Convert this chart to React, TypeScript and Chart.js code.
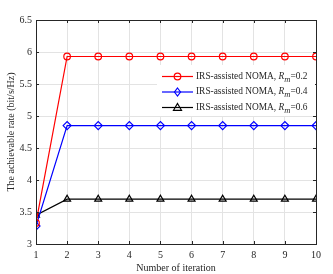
import React, { useEffect, useRef } from "react";
import { Chart, registerables } from "chart.js";

Chart.register(...registerables);

const iterations = [1, 2, 3, 4, 5, 6, 7, 8, 9, 10];
const rateRm02 = [3.33, 5.93, 5.93, 5.93, 5.93, 5.93, 5.93, 5.93, 5.93, 5.93];
const rateRm04 = [3.28, 4.85, 4.85, 4.85, 4.85, 4.85, 4.85, 4.85, 4.85, 4.85];
const rateRm06 = [3.45, 3.7, 3.7, 3.7, 3.7, 3.7, 3.7, 3.7, 3.7, 3.7];
const legendValues = ["0.2", "0.4", "0.6"];
const seriesColors = ["#ff0000", "#0000ff", "#000000"];
const pointStyles = ["circle", "rectRot", "triangle"];
const pointRadii = [3.3, 4, 4];

const FONT = "'Liberation Serif', 'DejaVu Serif', serif";
const AXIS = "#262626";

function drawMarker(ctx: CanvasRenderingContext2D, style: string, r: number, x: number, y: number, color: string) {
  ctx.save();
  ctx.strokeStyle = color;
  ctx.lineWidth = 1.2;
  ctx.beginPath();
  if (style === "circle") {
    ctx.arc(x, y, r, 0, Math.PI * 2);
  } else if (style === "rectRot") {
    ctx.moveTo(x, y - r);
    ctx.lineTo(x + r * 0.75, y);
    ctx.lineTo(x, y + r);
    ctx.lineTo(x - r * 0.75, y);
    ctx.closePath();
  } else {
    ctx.moveTo(x, y - r);
    ctx.lineTo(x + r, y + r * 0.7);
    ctx.lineTo(x - r, y + r * 0.7);
    ctx.closePath();
  }
  ctx.stroke();
  ctx.restore();
}

const boxPlugin = {
  id: "boxAndLegend",
  afterDraw(chart: any) {
    const { ctx, chartArea } = chart;
    const { left, right, top, bottom } = chartArea;
    ctx.save();
    ctx.strokeStyle = AXIS;
    ctx.lineWidth = 1;
    ctx.strokeRect(Math.round(left) + 0.5, Math.round(top) + 0.5, Math.round(right - left), Math.round(bottom - top));
    const xs = chart.scales.x;
    const ys = chart.scales.y;
    ctx.beginPath();
    xs.ticks.forEach((t: any) => {
      const px = Math.round(xs.getPixelForValue(t.value)) + 0.5;
      ctx.moveTo(px, bottom);
      ctx.lineTo(px, bottom - 3);
      ctx.moveTo(px, top);
      ctx.lineTo(px, top + 3);
    });
    ys.ticks.forEach((t: any) => {
      const py = Math.round(ys.getPixelForValue(t.value)) + 0.5;
      ctx.moveTo(left, py);
      ctx.lineTo(left + 3, py);
      ctx.moveTo(right, py);
      ctx.lineTo(right - 3, py);
    });
    ctx.stroke();

    // legend
    const lx0 = 157;
    const ly0 = 65;
    ctx.fillStyle = "#ffffff";
    ctx.fillRect(lx0, ly0, right - lx0 - 1, 51);
    const rowsY = [76.5, 92, 107.5];
    chart.data.datasets.forEach((ds: any, i: number) => {
      const y = rowsY[i];
      ctx.strokeStyle = seriesColors[i];
      ctx.lineWidth = 1.2;
      ctx.beginPath();
      ctx.moveTo(162, y);
      ctx.lineTo(193, y);
      ctx.stroke();
      drawMarker(ctx, pointStyles[i], pointRadii[i], 177.5, y, seriesColors[i]);
      ctx.fillStyle = AXIS;
      ctx.textBaseline = "middle";
      ctx.textAlign = "left";
      let x = 196;
      ctx.font = `9.4px ${FONT}`;
      const base = "IRS-assisted NOMA, ";
      ctx.fillText(base, x, y);
      x += ctx.measureText(base).width;
      ctx.font = `italic 9.4px ${FONT}`;
      ctx.fillText("R", x, y);
      x += ctx.measureText("R").width;
      ctx.font = `italic 8.5px ${FONT}`;
      ctx.fillText("m", x, y + 3);
      x += ctx.measureText("m").width;
      ctx.font = `9.4px ${FONT}`;
      ctx.fillText("=" + legendValues[i], x, y);
    });
    ctx.restore();
  },
};

export default function App() {
  const ref = useRef<HTMLCanvasElement | null>(null);
  useEffect(() => {
    if (!ref.current) return;
    const series = [rateRm02, rateRm04, rateRm06];
    const chart = new Chart(ref.current, {
      type: "line",
      data: {
        datasets: series.map((vals, i) => ({
          label: "IRS-assisted NOMA, Rm=" + legendValues[i],
          data: iterations.map((it, k) => ({ x: it, y: vals[k] })),
          borderColor: seriesColors[i],
          backgroundColor: "rgba(0,0,0,0)",
          borderWidth: 1.2,
          pointStyle: pointStyles[i] as any,
          pointRadius: pointRadii[i],
          pointBorderWidth: 1.2,
          pointBorderColor: seriesColors[i],
          pointBackgroundColor: "rgba(0,0,0,0)",
          tension: 0,
        })),
      },
      options: {
        animation: false,
        responsive: false,
        devicePixelRatio: 1,
        layout: { padding: { left: 0, right: 17, top: 20, bottom: 0 } },
        plugins: { legend: { display: false }, tooltip: { enabled: false } },
        scales: {
          x: {
            type: "linear",
            min: 1,
            max: 10,
            afterFit: (s: any) => { s.height = 30; },
            border: { display: false },
            grid: { color: "#e3e3e3", drawTicks: false },
            ticks: { stepSize: 1, padding: 5, color: AXIS, font: { family: FONT, size: 10 }, maxRotation: 0 },
            title: { display: true, text: "Number of iteration", color: AXIS, font: { family: FONT, size: 10, lineHeight: 1.2 }, padding: { top: 0, bottom: 0 } },
          },
          y: {
            min: 3,
            max: 6.5,
            afterFit: (s: any) => { s.width = 36; },
            border: { display: false },
            grid: { color: "#e3e3e3", drawTicks: false },
            ticks: { stepSize: 0.5, padding: 4, color: AXIS, font: { family: FONT, size: 10 }, callback: (v: any) => String(v) },
            title: { display: true, text: "The achievable rate (bit/s/Hz)", color: AXIS, font: { family: FONT, size: 10, lineHeight: 1.2 }, padding: { top: 5, bottom: 0 } },
          },
        },
      },
      plugins: [boxPlugin],
    });
    return () => chart.destroy();
  }, []);
  return (
    <div style={{ position: "absolute", left: 0, top: 0, width: 333, height: 274, background: "#fff" }}>
      <canvas ref={ref} width={333} height={274} style={{ width: 333, height: 274 }} />
    </div>
  );
}
